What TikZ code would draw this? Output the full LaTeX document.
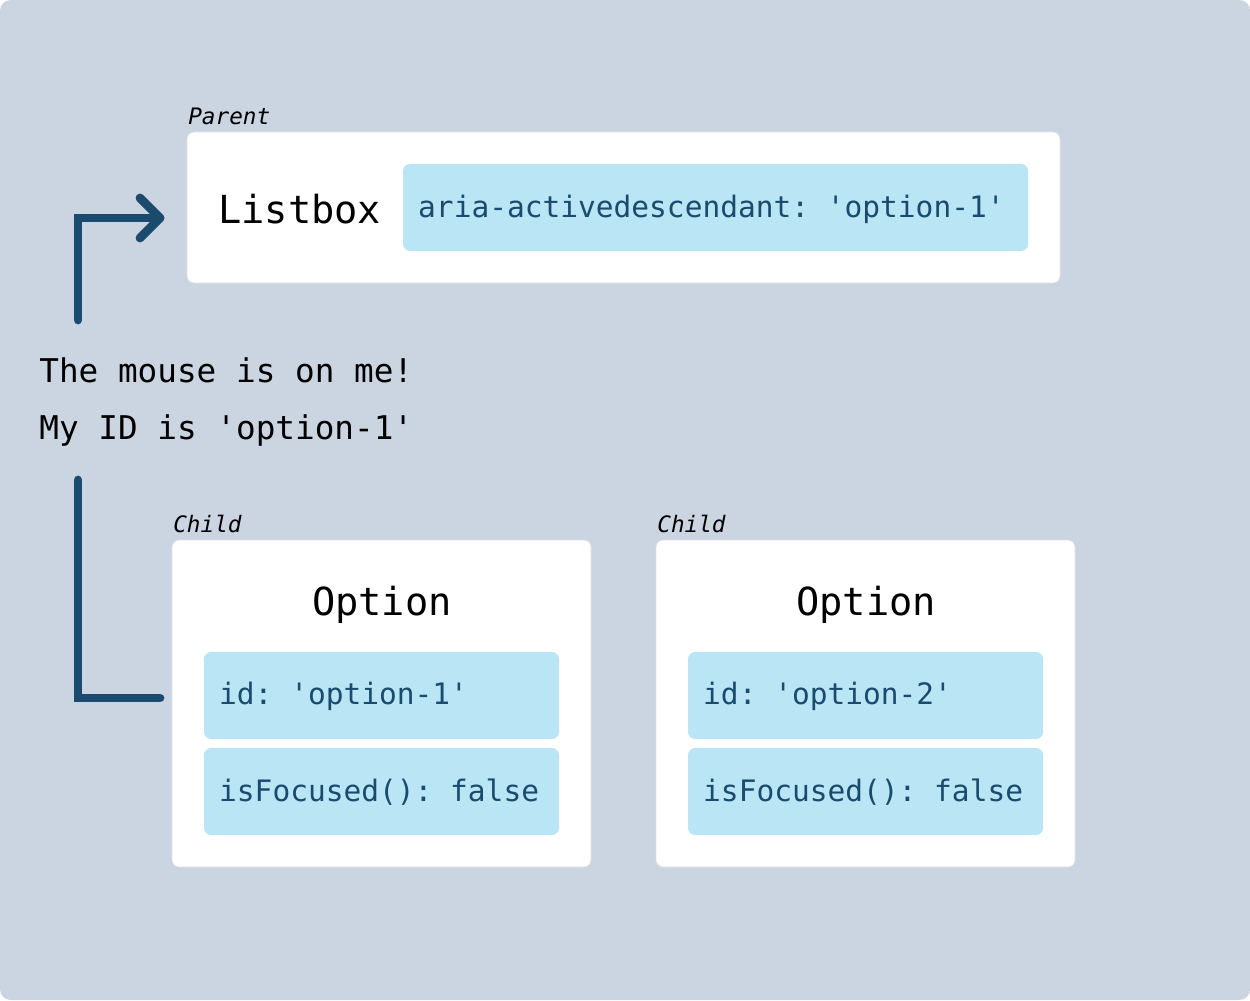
\documentclass[tikz,border=0pt]{standalone}
\usepackage{fontspec}
\setmonofont{DejaVu Sans Mono}
\usetikzlibrary{arrows.meta}
\definecolor{bg}{HTML}{CBD5E1}
\definecolor{chip}{HTML}{BAE5F5}
\definecolor{ink}{HTML}{1A4A6E}
\tikzset{
 card/.style={fill=white,rounded corners=4pt,draw=black!12,line width=0.4pt},
 chipbox/.style={fill=chip,rounded corners=4pt},
 code/.style={font=\ttfamily\fontsize{16.8}{20}\selectfont,text=ink,anchor=west},
 title/.style={font=\ttfamily\fontsize{22}{26}\selectfont},
 tag/.style={font=\ttfamily\itshape\fontsize{12.9}{15}\selectfont,anchor=south west,inner sep=0},
 says/.style={font=\ttfamily\fontsize{18.6}{22}\selectfont,anchor=west,inner sep=0},
 conn/.style={draw=ink,line width=5pt,line cap=round,line join=miter}
}
\begin{document}
\begin{tikzpicture}[x=0.02cm,y=-0.02cm]
\useasboundingbox (0,0) rectangle (1250,1000);
\fill[bg,rounded corners=6pt] (0,0) rectangle (1250,1000);
% parent
\draw[card] (187,132) rectangle (1060,283);
\node[tag] (ptag) at (188,125) {Parent};
\node[title,anchor=west,inner sep=0] (lb) at (218,209) {Listbox};
\fill[chipbox] (403,164) rectangle (1028,251);
\node[code] (aria) at (412,209) {aria-activedescendant: 'option-1'};
% children
\foreach \x/\n [count=\i] in {172/1,656/2}{
 \draw[card] (\x,540) rectangle (\x+419,867);
 \node[tag] (ct\i) at (\x+1,533) {Child};
 \node[title] (op\i) at (\x+210,605) {Option};
 \fill[chipbox] (\x+32,652) rectangle (\x+387,739);
 \fill[chipbox] (\x+32,748) rectangle (\x+387,835);
 \node[code] (id\i) at (\x+41,696) {id: 'option-\n'};
 \node[code] (f\i) at (\x+41,792) {isFocused(): false};
}
\node[says] (t1) at (39,370) {The mouse is on me!};
\node[says] (t2) at (39,430) {My ID is 'option-1'};
\coordinate (a0) at (78,320);
\coordinate (a1) at (160,218);
\draw[conn] (a0) -- (78,218) -- (a1);
\draw[draw=ink,line width=5pt,line cap=round,line join=round] (140,198) -- (a1) -- (140,238);
\coordinate (b0) at (78,480);
\coordinate (b1) at (160,698);
\draw[conn] (b0) -- (78,698) -- (b1);
\end{tikzpicture}
\end{document}
